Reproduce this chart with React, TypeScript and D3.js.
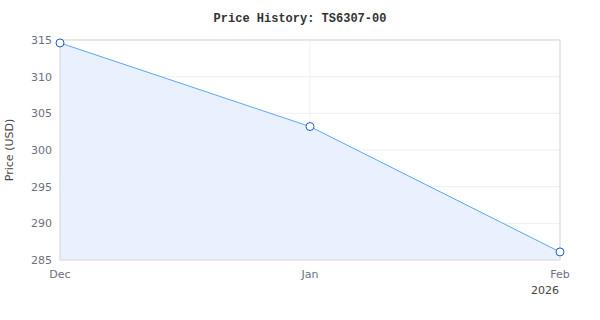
import React from "react";
import * as d3 from "d3";

const dates = ["2025-12-01", "2026-01-01", "2026-02-01"];
const prices = [314.6, 303.2, 286.1];
const yTicks = [285, 290, 295, 300, 305, 310, 315];
const xTickLabels = ["Dec", "Jan", "Feb"];

const W = 600, H = 320;
const M = { l: 60, r: 40, t: 40, b: 60 };

export default function App() {
  const parse = d3.utcParse("%Y-%m-%d");
  const xs = dates.map((d) => parse(d) as Date);
  const x = d3.scaleUtc().domain([xs[0], xs[xs.length - 1]]).range([M.l, W - M.r]);
  const y = d3.scaleLinear().domain([285, 315]).range([H - M.b, M.t]);
  const pts = xs.map((d, i) => [x(d), y(prices[i])] as [number, number]);
  const line = d3.line()(pts) || "";
  const area = d3.area<[number, number]>().x((d) => d[0]).y0(y(285)).y1((d) => d[1])(pts) || "";
  const font = "'DejaVu Sans', sans-serif";
  return (
    <svg width={W} height={H} style={{ position: "absolute", left: 0, top: 0 }}>
      <rect width={W} height={H} fill="#fff" />
      <text x={300} y={22} textAnchor="middle" fontFamily="'Liberation Mono', 'DejaVu Sans Mono', monospace" fontWeight="bold" fontSize={12} fill="#333">
        Price History: TS6307-00
      </text>
      {yTicks.map((t) => (
        <g key={t}>
          <line x1={M.l} x2={W - M.r} y1={y(t)} y2={y(t)} stroke="#eeeeee" />
          <text x={M.l - 8} y={y(t) + 4} textAnchor="end" fontFamily={font} fontSize={11} fill="#6b7080">{t}</text>
        </g>
      ))}
      {xs.map((d, i) => (
        <g key={i}>
          <line x1={x(d)} x2={x(d)} y1={M.t} y2={H - M.b} stroke="#eeeeee" />
          <text x={x(d)} y={H - M.b + 18} textAnchor="middle" fontFamily={font} fontSize={11} fill="#6b7080">{xTickLabels[i]}</text>
        </g>
      ))}
      <text x={W - M.r - 15} y={H - M.b + 34} textAnchor="middle" fontFamily={font} fontSize={11} fill="#444">2026</text>
      <path d={area} fill="#e6effd" fillOpacity={0.9} />
      <rect x={M.l} y={M.t} width={W - M.l - M.r} height={H - M.t - M.b} fill="none" stroke="#d9d9d9" />
      <path d={line} fill="none" stroke="#5fa8ee" strokeWidth={1} />
      {pts.map((p, i) => (
        <circle key={i} cx={p[0]} cy={p[1]} r={4} fill="#fff" stroke="#1a56db" strokeWidth={1} />
      ))}
      <text transform={`translate(13,${(M.t + H - M.b) / 2}) rotate(-90)`} textAnchor="middle" fontFamily={font} fontSize={11} fill="#444">Price (USD)</text>
    </svg>
  );
}
